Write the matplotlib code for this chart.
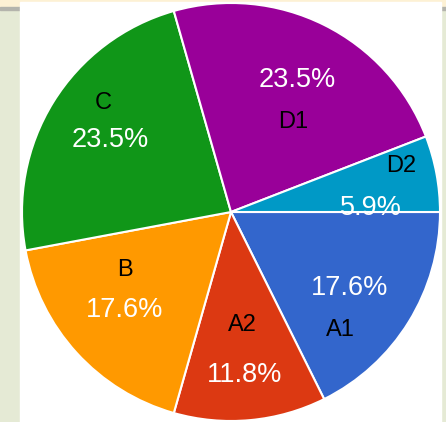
import matplotlib
matplotlib.use("Agg")
import matplotlib.pyplot as plt
from matplotlib.patches import Rectangle

categories = ["A1", "A2", "B", "C", "D1", "D2"]
values = [3, 2, 3, 4, 4, 1]
colors = ["#3366cc", "#dc3912", "#ff9900", "#109618", "#990099", "#0099c6"]

# label anchor positions (pixels from top-left): category label, percent label
label_pos = [(340, 330), (242, 325), (125, 270), (103, 103), (293, 122), (401, 166)]
pct_pos = [(350, 288), (245, 375), (125, 310), (110, 140), (297, 80), (371, 208)]

W, H = 446, 422
fig = plt.figure(figsize=(W / 100, H / 100), dpi=100)
fig.patch.set_facecolor("#e5ead5")
ax = fig.add_axes([0, 0, 1, 1])
ax.set_xlim(0, W)
ax.set_ylim(0, H)
ax.axis("off")

# page chrome
ax.add_patch(Rectangle((0, H - 7), W, 7, color="#fdf1d4", zorder=0))
ax.add_patch(Rectangle((0, H - 9.5), W, 2.5, color="#b4b4ac", zorder=0))
ax.add_patch(Rectangle((20, 0), 421, H - 2, color="white", zorder=1))

cx, cy, r = 231, H - 212, 209
wedges, _ = ax.pie(values, colors=colors, startangle=0, counterclock=False,
                   center=(cx, cy), radius=r, frame=True,
                   wedgeprops=dict(edgecolor="white", linewidth=1.5))
for w in wedges:
    w.set_zorder(2)
ax.set_xlim(0, W)
ax.set_ylim(0, H)
ax.axis("off")

total = sum(values)
for cat, v, (lx, ly), (px, py) in zip(categories, values, label_pos, pct_pos):
    ax.text(lx, H - ly, cat, ha="center", va="center", fontsize=17,
            color="black", family="Liberation Sans", zorder=3)
    ax.text(px, H - py, f"{100 * v / total:.1f}%", ha="center", va="center",
            fontsize=19.5, color="white", family="Liberation Sans", zorder=3)

fig.savefig("out.png", dpi=100, facecolor=fig.get_facecolor())
